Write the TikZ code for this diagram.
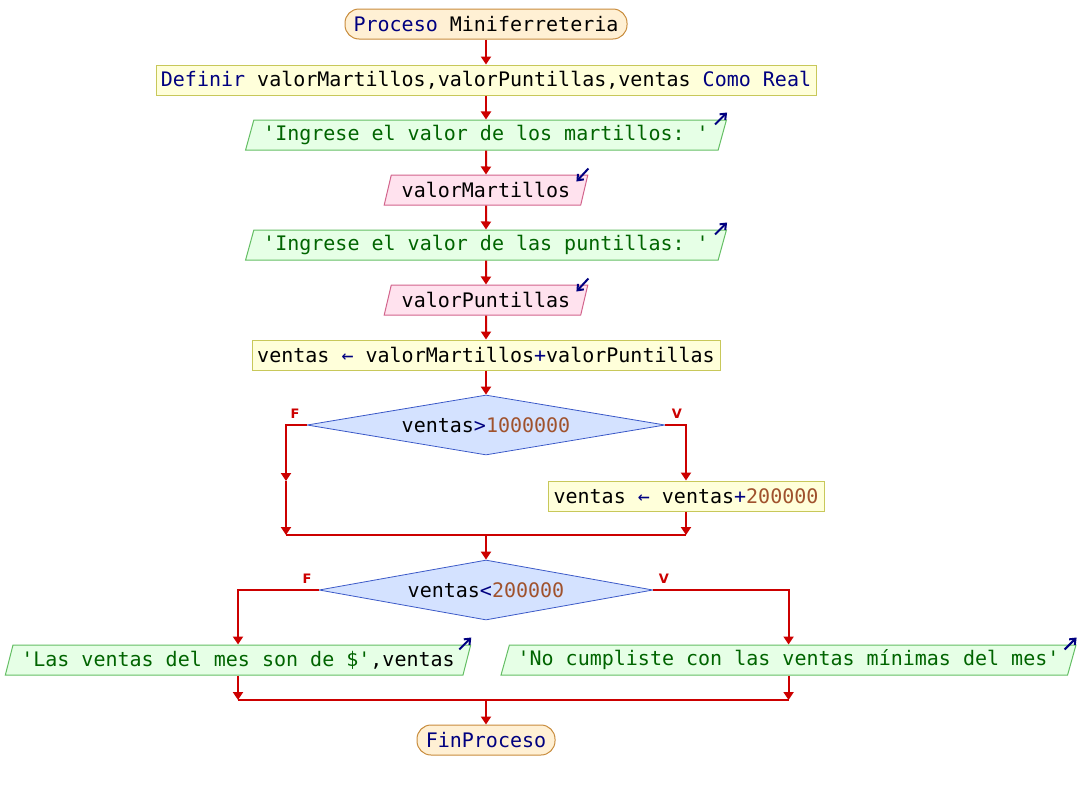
\documentclass[tikz,border=0pt]{standalone}
\usepackage{fontspec}
\setmonofont{DejaVu Sans Mono}
\newfontfamily\flagfont{DejaVu Sans}
\usetikzlibrary{shapes.geometric,arrows.meta}

\definecolor{kw}{RGB}{0,0,128}
\definecolor{strg}{RGB}{0,100,0}
\definecolor{numb}{RGB}{160,82,45}
\definecolor{flowred}{RGB}{204,0,0}
\definecolor{termfill}{RGB}{255,240,212}
\definecolor{termline}{RGB}{200,140,60}
\definecolor{procfill}{RGB}{255,255,218}
\definecolor{procline}{RGB}{200,200,90}
\definecolor{outfill}{RGB}{230,255,230}
\definecolor{outline}{RGB}{100,190,100}
\definecolor{infill}{RGB}{255,226,238}
\definecolor{inline}{RGB}{210,100,140}
\definecolor{condfill}{RGB}{212,226,255}
\definecolor{condline}{RGB}{60,90,200}

\begin{document}
\begin{tikzpicture}[x=1pt,y=-1pt,
  every node/.style={font=\ttfamily\fontsize{20}{24}\selectfont, inner sep=0pt},
  term/.style={draw=termline, fill=termfill, rounded corners=14pt, minimum height=30pt, line width=1pt},
  proc/.style={draw=procline, fill=procfill, minimum height=30pt, line width=1pt},
  iobox/.style={trapezium, trapezium left angle=68, trapezium right angle=112,
    trapezium stretches=true, minimum height=30pt, line width=1pt},
  outbox/.style={iobox, draw=outline, fill=outfill},
  inbox/.style={iobox, draw=inline, fill=infill},
  cond/.style={diamond, aspect=6, draw=condline, fill=condfill, minimum width=358pt, minimum height=60pt, line width=0.8pt},
  flag/.style={font=\flagfont\bfseries\fontsize{13}{15}\selectfont, text=flowred},
  wire/.style={draw=flowred, line width=2pt},
  flow/.style={wire, -{Triangle[width=10pt,length=8pt]}},
  ioicon/.style={draw=kw, line width=2pt, -{Straight Barb[width=8pt,length=5pt]}}]

\useasboundingbox (0,0) rectangle (1080,790);

\node [term, minimum width=282pt] (start) at (486,24) {\textcolor{kw}{Proceso} Miniferreteria};
\node [proc, minimum width=660pt] (defn) at (486,80) {\textcolor{kw}{Definir} valorMartillos,valorPuntillas,ventas \textcolor{kw}{Como Real}};
\node [outbox, minimum width=481pt] (out1) at (486,135) {\textcolor{strg}{'Ingrese el valor de los martillos: '}};
\node [inbox, minimum width=204pt] (in1) at (486,190) {valorMartillos};
\node [outbox, minimum width=481pt] (out2) at (486,245) {\textcolor{strg}{'Ingrese el valor de las puntillas: '}};
\node [inbox, minimum width=204pt] (in2) at (486,300) {valorPuntillas};
\node [proc, minimum width=468pt] (asig1) at (486,355) {ventas \textcolor{kw}{\char"2190} valorMartillos\textcolor{kw}{+}valorPuntillas};
\node [cond] (cond1) at (486,425) {ventas\textcolor{kw}{>}\textcolor{numb}{1000000}};
\node [proc, minimum width=276pt] (asig2) at (686,496) {ventas \textcolor{kw}{\char"2190} ventas\textcolor{kw}{+}\textcolor{numb}{200000}};
\node [cond, minimum width=334pt] (cond2) at (486,590) {ventas\textcolor{kw}{<}\textcolor{numb}{200000}};
\node [outbox, minimum width=466pt] (out3) at (238,660) {\textcolor{strg}{'Las ventas del mes son de \$'},ventas};
\node [outbox, minimum width=577pt] (out4) at (788.5,660) {\textcolor{strg}{'No cumpliste con las ventas m\'inimas del mes'}};
\node [term, minimum width=138pt] (fin) at (486,740) {\textcolor{kw}{FinProceso}};

\node [flag] (f1) at (295,414) {F};
\node [flag] (v1) at (677,414) {V};
\node [flag] (f2) at (307,579) {F};
\node [flag] (v2) at (664,579) {V};

% io marks
\draw [ioicon] ([shift={(-12,5)}]out1.top right corner) -- ([shift={(0,-7)}]out1.top right corner);
\draw [ioicon] ([shift={(-12,5)}]out2.top right corner) -- ([shift={(0,-7)}]out2.top right corner);
\draw [ioicon] ([shift={(-12,5)}]out3.top right corner) -- ([shift={(0,-7)}]out3.top right corner);
\draw [ioicon] ([shift={(-12,5)}]out4.top right corner) -- ([shift={(0,-7)}]out4.top right corner);
\draw [ioicon] ([shift={(0,-6)}]in1.top right corner) -- ([shift={(-12,7)}]in1.top right corner);
\draw [ioicon] ([shift={(0,-6)}]in2.top right corner) -- ([shift={(-12,7)}]in2.top right corner);

% main line
\draw [flow] (start) -- (defn);
\draw [flow] (defn) -- (out1);
\draw [flow] (out1) -- (in1);
\draw [flow] (in1) -- (out2);
\draw [flow] (out2) -- (in2);
\draw [flow] (in2) -- (asig1);
\draw [flow] (asig1) -- (cond1);

% first decision
\coordinate (left1) at (286,481);
\coordinate (join1) at (486,535);
\draw [flow] (cond1.west) -| (left1);
\draw [flow] (left1) -- (left1 |- join1);
\draw [flow] (cond1.east) -| (asig2.north);
\draw [flow] (asig2.south) -- (asig2.south |- join1);
\draw [wire] (left1 |- join1) -- (asig2.south |- join1);
\draw [flow] (join1) -- (cond2);

% second decision
\coordinate (join2) at (486,700);
\draw [flow] (cond2.west) -| (out3.north);
\draw [flow] (cond2.east) -| (out4.north);
\draw [flow] (out3.south) -- (out3.south |- join2);
\draw [flow] (out4.south) -- (out4.south |- join2);
\draw [wire] (out3.south |- join2) -- (out4.south |- join2);
\draw [flow] (join2) -- (fin);

\end{tikzpicture}
\end{document}
